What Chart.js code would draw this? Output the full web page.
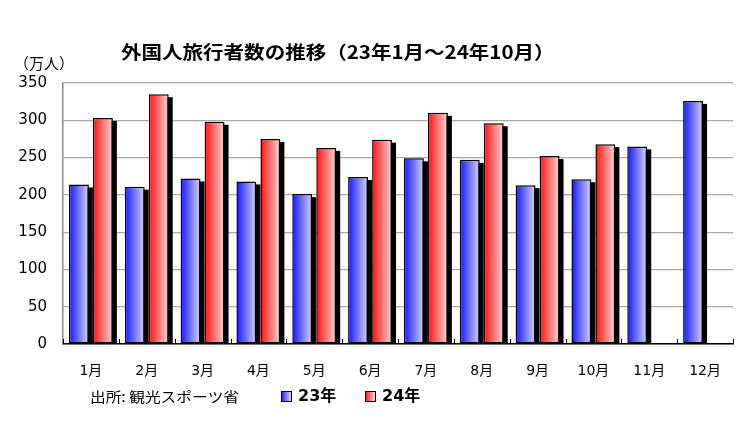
<!DOCTYPE html>
<html>
<head>
<meta charset="utf-8">
<script src="https://cdn.jsdelivr.net/npm/chart.js@4/dist/chart.umd.min.js"></script>
<style>
  body { margin: 0; background: #fff; }
  #chart1 { display: block; }
</style>
</head>
<body>
<canvas id="chart1" width="750" height="437"></canvas>
<script>
var months = ['1月', '2月', '3月', '4月', '5月', '6月', '7月', '8月', '9月', '10月', '11月', '12月'];
var visitors23 = [214, 211, 222, 218, 201, 224, 249, 247, 213, 221, 265, 326];
var visitors24 = [303, 335, 298, 275, 263, 274, 310, 296, 252, 268, null, null];
var seriesNames = ['23年', '24年'];
var titleText = '外国人旅行者数の推移（23年1月～24年10月）';
var unitText = '（万人）';
var sourceText = '出所: 観光スポーツ省';

var CAT_PCT = 0.86;
var BAR_PCT = 0.83;
var JP = '"Noto Sans CJK JP", sans-serif';
var NUM = '"DejaVu Sans", "Noto Sans CJK JP", sans-serif';

var blueStops = ['#1414ff', '#d4d4ff'];
var redStops = ['#ff1010', '#ffd4d4'];

function gradientFill(c, stops) {
  var chart = c.chart;
  var x = chart.scales.x;
  if (!x || !chart.chartArea || c.dataIndex === undefined) return stops[0];
  var slot = (x.width / months.length) * CAT_PCT / 2;
  var w = slot * BAR_PCT;
  var centre = x.getPixelForValue(c.dataIndex) + (c.datasetIndex === 0 ? -slot / 2 : slot / 2);
  var g = chart.ctx.createLinearGradient(centre - w / 2, 0, centre + w / 2, 0);
  g.addColorStop(0, stops[0]);
  g.addColorStop(1, stops[1]);
  return g;
}

// text stretched sideways a little, like the original's font
function wideText(ctx, text, x, y, sx) {
  ctx.save();
  ctx.translate(x, y);
  ctx.scale(sx, 1);
  ctx.fillText(text, 0, 0);
  ctx.restore();
}

var shadows = {
  id: 'shadows',
  beforeDatasetsDraw: function(chart) {
    var ctx = chart.ctx;
    var area = chart.chartArea;
    ctx.save();
    ctx.beginPath();
    ctx.rect(area.left, area.top, area.right - area.left + 10, area.bottom - area.top);
    ctx.clip();
    ctx.fillStyle = '#000';
    chart.data.datasets.forEach(function(ds, i) {
      chart.getDatasetMeta(i).data.forEach(function(bar, j) {
        if (ds.data[j] == null) return;
        var p = bar.getProps(['x', 'y', 'base', 'width'], true);
        ctx.fillRect(p.x - p.width / 2 + 4, p.y + 3, p.width, p.base - p.y);
      });
    });
    ctx.restore();
  }
};

var extras = {
  id: 'extras',
  afterDraw: function(chart) {
    var ctx = chart.ctx;
    var x = chart.scales.x;
    var area = chart.chartArea;
    ctx.save();

    // small tick marks between months
    ctx.strokeStyle = '#000';
    ctx.lineWidth = 1;
    for (var i = 0; i <= months.length; i++) {
      var px = Math.round(x.getPixelForValue(i - 0.5)) + 0.5;
      ctx.beginPath();
      ctx.moveTo(px, area.bottom);
      ctx.lineTo(px, area.bottom - 5);
      ctx.stroke();
    }

    ctx.fillStyle = '#000';
    ctx.textBaseline = 'middle';
    ctx.textAlign = 'left';
    ctx.font = 'bold 18px ' + JP;
    wideText(ctx, titleText, 121, 52, 1.14);

    ctx.font = '15px ' + JP;
    wideText(ctx, unitText, 14, 63, 1.0);

    ctx.font = '14px ' + JP;
    wideText(ctx, sourceText, 90, 397, 1.12);

    // legend
    var items = [[281, seriesNames[0], blueStops], [365, seriesNames[1], redStops]];
    items.forEach(function(it) {
      var g = ctx.createLinearGradient(it[0], 0, it[0] + 10, 0);
      g.addColorStop(0, it[2][0]);
      g.addColorStop(1, it[2][1]);
      ctx.fillStyle = g;
      ctx.fillRect(it[0], 391, 10, 11);
      ctx.strokeStyle = '#000';
      ctx.strokeRect(it[0] + 0.5, 391.5, 10, 10);
      ctx.fillStyle = '#000';
      ctx.font = 'bold 16px ' + NUM;
      ctx.fillText(it[1], it[0] + 17, 397);
    });
    ctx.restore();
  }
};

var chart1 = new Chart(document.querySelector('#chart1'), {
  type: 'bar',
  data: {
    labels: months,
    datasets: [{
      label: seriesNames[0],
      data: visitors23,
      backgroundColor: function(c) { return gradientFill(c, blueStops); },
      borderColor: '#000',
      borderWidth: 1.5,
      borderSkipped: false
    }, {
      label: seriesNames[1],
      data: visitors24,
      backgroundColor: function(c) { return gradientFill(c, redStops); },
      borderColor: '#000',
      borderWidth: 1.5,
      borderSkipped: false
    }]
  },
  options: {
    responsive: false,
    animation: false,
    categoryPercentage: CAT_PCT,
    barPercentage: BAR_PCT,
    layout: { padding: { top: 83, right: 17, left: 0, bottom: 0 } },
    plugins: {
      legend: { display: false },
      title: { display: false },
      tooltip: { enabled: false }
    },
    scales: {
      x: {
        grid: { display: false },
        border: { display: true, color: '#000', width: 1.5 },
        ticks: { color: '#000', padding: 11, font: { family: NUM, size: 14 } },
        afterFit: function(s) { s.height = 93; }
      },
      y: {
        min: 0,
        max: 350,
        ticks: { stepSize: 50, color: '#000', padding: 16, font: { family: NUM, size: 15 } },
        grid: { color: '#a8a8a8', drawTicks: false, lineWidth: 1.2 },
        border: { display: true, color: '#8c8c8c', width: 1.5 },
        afterFit: function(s) { s.width = 63; }
      }
    }
  },
  plugins: [shadows, extras]
});
</script>
</body>
</html>
